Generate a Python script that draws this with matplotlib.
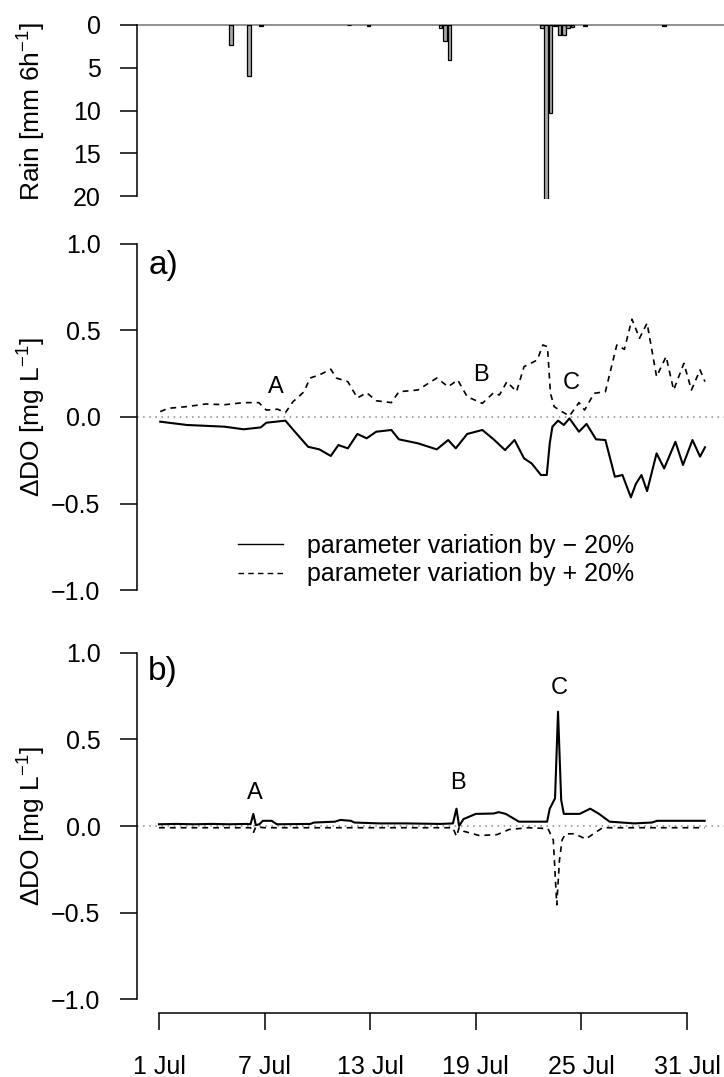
import matplotlib
matplotlib.use("Agg")
import matplotlib.pyplot as plt
from matplotlib.lines import Line2D

plt.rcParams["font.family"] = ["Liberation Sans", "DejaVu Sans"]
plt.rcParams["font.size"] = 18
plt.rcParams["mathtext.fontset"] = "custom"
plt.rcParams["mathtext.rm"] = "Liberation Sans"
plt.rcParams["mathtext.it"] = "Liberation Sans:italic"
plt.rcParams["mathtext.default"] = "regular"

# rain, 6-hourly totals (day of July, mm)
rain_day = [5.1, 6.1, 6.8, 11.8, 12.9, 17.0, 17.25, 17.5, 22.75, 23.0, 23.25,
            23.5, 23.75, 24.0, 24.25, 24.5, 25.2, 29.7]
rain_mm = [2.3, 6.0, 0.1, 0.05, 0.1, 0.4, 1.9, 4.1, 0.3, 20.3, 10.3,
           0.15, 1.2, 1.2, 0.35, 0.2, 0.1, 0.1]

# panel a) delta DO
a_day_plus = [1.07, 1.51, 2.58, 3.66, 4.73, 5.81, 6.67, 7.10, 7.74, 8.18, 8.61,
              9.24, 9.58, 10.11, 10.76, 11.08, 11.73, 12.27, 12.80, 13.34, 14.20,
              14.63, 15.71, 16.78, 17.43, 17.97, 18.51, 19.37, 20.01, 20.34, 20.77,
              21.31, 21.74, 22.49, 22.81, 23.07, 23.24, 23.45, 23.89, 24.32, 24.86,
              25.18, 25.72, 26.36, 27.01, 27.44, 27.87, 28.30, 28.73, 29.27, 29.81,
              30.24, 30.82, 31.25, 31.74, 32.02]
a_plus = [0.031, 0.050, 0.060, 0.075, 0.071, 0.083, 0.083, 0.040, 0.045, 0.025, 0.088,
          0.146, 0.225, 0.243, 0.276, 0.225, 0.204, 0.110, 0.140, 0.094, 0.083,
          0.146, 0.156, 0.225, 0.175, 0.214, 0.117, 0.079, 0.140, 0.127, 0.204,
          0.146, 0.291, 0.329, 0.416, 0.406, 0.137, 0.060, 0.031, 0.006, 0.083,
          0.040, 0.137, 0.146, 0.416, 0.391, 0.565, 0.455, 0.542, 0.233, 0.349,
          0.156, 0.310, 0.156, 0.272, 0.204]

a_day_minus = [1.07, 2.58, 4.73, 5.81, 6.78, 7.10, 8.18, 8.72, 9.47, 10.11, 10.76,
               11.19, 11.73, 12.27, 12.80, 13.34, 14.20, 14.63, 15.71, 16.78, 17.43,
               17.86, 18.51, 19.37, 20.01, 20.66, 21.20, 21.74, 22.17, 22.70, 23.03,
               23.20, 23.35, 23.67, 24.00, 24.32, 24.86, 25.29, 25.83, 26.36, 26.90,
               27.33, 27.81, 28.09, 28.41, 28.73, 29.27, 29.70, 30.34, 30.77, 31.31,
               31.74, 32.02]
a_minus = [-0.027, -0.046, -0.056, -0.071, -0.060, -0.033, -0.021, -0.085, -0.172, -0.187, -0.225,
           -0.162, -0.181, -0.098, -0.123, -0.085, -0.075, -0.129, -0.152, -0.187, -0.133,
           -0.181, -0.098, -0.075, -0.129, -0.191, -0.133, -0.239, -0.268, -0.335, -0.335,
           -0.152, -0.056, -0.021, -0.046, -0.008, -0.085, -0.040, -0.129, -0.133, -0.345,
           -0.335, -0.464, -0.387, -0.335, -0.428, -0.210, -0.297, -0.143, -0.277, -0.133,
           -0.229, -0.175]

# panel b) delta DO
b_day_minus = [1.0, 2.0, 3.0, 4.0, 5.0, 6.0, 6.2, 6.36, 6.5, 6.7, 6.9, 7.4, 7.7,
               9.6, 9.8, 11.0, 11.3, 11.9, 12.1, 13.5, 15.0, 17.0, 17.7, 17.9, 18.05,
               18.3, 19.0, 20.0, 20.3, 20.7, 21.45, 23.05, 23.2, 23.35, 23.5, 23.67,
               23.85, 24.0, 24.9, 25.5, 26.0, 26.6, 28.0, 29.0, 29.3, 32.0]
b_minus = [0.01, 0.012, 0.01, 0.012, 0.01, 0.012, 0.01, 0.07, 0.005, 0.01, 0.03, 0.03, 0.01,
           0.012, 0.02, 0.025, 0.035, 0.03, 0.02, 0.015, 0.015, 0.012, 0.015, 0.10, 0.0,
           0.04, 0.07, 0.072, 0.08, 0.07, 0.025, 0.025, 0.10, 0.13, 0.16, 0.66,
           0.15, 0.07, 0.07, 0.10, 0.07, 0.025, 0.015, 0.02, 0.03, 0.03]

b_day_plus = [1.0, 6.2, 6.36, 6.5, 7.0, 17.7, 17.9, 18.05, 18.3, 19.2, 20.2, 20.9,
              22.0, 23.1, 23.4, 23.6, 23.75, 23.9, 24.1, 24.6, 25.25, 26.2, 32.0]
b_plus = [-0.01, -0.01, -0.04, -0.005, -0.01, -0.01, -0.06, -0.01, -0.03, -0.055, -0.05, -0.02,
          -0.01, -0.015, -0.08, -0.455, -0.2, -0.08, -0.045, -0.045, -0.075, -0.01, -0.01]

tick_days = [1, 7, 13, 19, 25, 31]
tick_labels = ["1 Jul", "7 Jul", "13 Jul", "19 Jul", "25 Jul", "31 Jul"]

W, H = 724, 1077


def add_axes_px(fig, top, bottom, left=137, right=724):
    return fig.add_axes([left / W, 1 - bottom / H, (right - left) / W, (bottom - top) / H])


def style_axes(ax):
    for s in ["top", "right", "bottom"]:
        ax.spines[s].set_visible(False)
    ax.spines["left"].set_linewidth(1.1)
    ax.tick_params(axis="y", direction="out", length=12.2, width=1.1, pad=14)
    ax.set_xlim(-0.25, 33.1)
    ax.set_xticks([])


def main():
    fig = plt.figure(figsize=(W / 100, H / 100), dpi=100)

    # rain panel
    ax_r = add_axes_px(fig, 25, 199)
    style_axes(ax_r)
    ax_r.axhline(0, color="#888888", lw=1.3, clip_on=False, zorder=1)
    ax_r.bar(rain_day, rain_mm, width=0.2, color="#a8a8a8", edgecolor="black",
             linewidth=0.9, zorder=2)
    ax_r.set_ylim(20.35, 0)
    ax_r.set_yticks([0, 5, 10, 15, 20])
    ax_r.spines["left"].set_bounds(0, 20)
    fig.text(32 / W, 1 - 111 / H, r"Rain [mm 6h$^{-1}$]", rotation=90,
             ha="center", va="center", fontsize=19)

    # panel a
    ax_a = add_axes_px(fig, 230, 604)
    style_axes(ax_a)
    ax_a.axhline(0, color="#888888", lw=1.1, ls=(0, (1, 3)))
    ax_a.plot(a_day_minus, a_minus, color="black", lw=1.5)
    ax_a.plot(a_day_plus, a_plus, color="black", lw=1.2, ls=(0, (3.5, 3)))
    ax_a.set_ylim(-1.08, 1.08)
    ax_a.set_yticks([-1.0, -0.5, 0.0, 0.5, 1.0])
    ax_a.set_yticklabels(["\u22121.0", "\u22120.5", "0.0", "0.5", "1.0"])
    ax_a.spines["left"].set_bounds(-1, 1)
    ax_a.text(0.019, 0.904, "a)", transform=ax_a.transAxes, fontsize=24,
              ha="left", va="center")
    for lab, d, v in [("A", 7.65, 0.173), ("B", 19.3, 0.243), ("C", 24.4, 0.197)]:
        ax_a.text(d, v, lab, fontsize=17, ha="center", va="center")
    handles = [Line2D([], [], color="black", lw=1.0),
               Line2D([], [], color="black", lw=1.0, ls=(0, (4, 3)))]
    ax_a.legend(handles, ["parameter variation by \u2212 20%",
                          "parameter variation by + 20%"],
                loc="upper left", bbox_to_anchor=(0.172, 0.187), frameon=False,
                borderpad=0, borderaxespad=0, handlelength=1.8,
                handletextpad=0.95, labelspacing=0.17, fontsize=18)
    fig.text(32 / W, 1 - 417 / H, r"$\Delta$DO [mg L$^{-1}$]", rotation=90,
             ha="center", va="center", fontsize=19)

    # panel b
    ax_b = add_axes_px(fig, 639, 1013)
    style_axes(ax_b)
    ax_b.axhline(0, color="#888888", lw=1.1, ls=(0, (1, 3)))
    ax_b.plot(b_day_minus, b_minus, color="black", lw=1.5)
    ax_b.plot(b_day_plus, b_plus, color="black", lw=1.2, ls=(0, (3.5, 3)))
    ax_b.set_ylim(-1.08, 1.08)
    ax_b.set_yticks([-1.0, -0.5, 0.0, 0.5, 1.0])
    ax_b.set_yticklabels(["\u22121.0", "\u22120.5", "0.0", "0.5", "1.0"])
    ax_b.spines["left"].set_bounds(-1, 1)
    ax_b.text(0.019, 0.912, "b)", transform=ax_b.transAxes, fontsize=24,
              ha="left", va="center")
    for lab, d, v in [("A", 6.45, 0.19), ("B", 17.99, 0.248), ("C", 23.73, 0.795)]:
        ax_b.text(d, v, lab, fontsize=17, ha="center", va="center")
    fig.text(32 / W, 1 - 826 / H, r"$\Delta$DO [mg L$^{-1}$]", rotation=90,
             ha="center", va="center", fontsize=19)

    # x axis below panel b
    ax_b.spines["bottom"].set_visible(True)
    ax_b.spines["bottom"].set_linewidth(1.1)
    ax_b.spines["bottom"].set_bounds(1, 31)
    ax_b.set_xticks(tick_days)
    ax_b.set_xticklabels(tick_labels)
    ax_b.tick_params(axis="x", direction="out", length=12.2, width=1.1, pad=18)

    fig.savefig("out.png", dpi=100)


if __name__ == "__main__":
    main()
